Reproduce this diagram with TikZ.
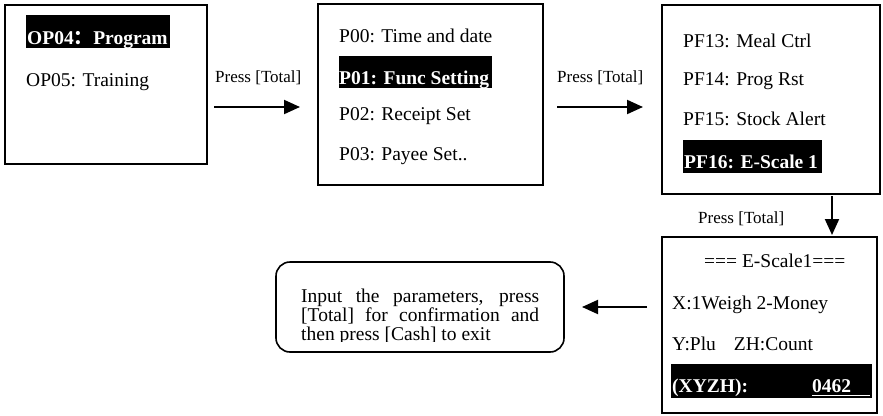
\documentclass[tikz,border=0pt]{standalone}
\usepackage{fontspec}
\setmainfont{Liberation Serif}
\newfontfamily\cjk{Noto Sans CJK SC}
\usetikzlibrary{arrows.meta}
\begin{document}
\begin{tikzpicture}[x=1pt,y=-1pt,
  box/.style={draw, line width=1.6pt, inner sep=0pt, outer sep=0pt, anchor=north west},
  txt/.style={anchor=base west, inner sep=0pt, font=\fontsize{19.5pt}{19pt}\selectfont},
  btxt/.style={anchor=base west, inner sep=0pt, font=\fontsize{19.5pt}{19pt}\selectfont\bfseries, text=white},
  lbl/.style={anchor=base west, inner sep=0pt, font=\fontsize{17pt}{20pt}\selectfont},
  arr/.style={line width=2pt, -{Triangle[length=16pt,width=14pt]}},
  hl/.style={fill=black}]
\useasboundingbox (0,0) rectangle (883,415);

% screens
\node[box, minimum width=202pt, minimum height=159pt] (b1) at (5,5) {};
\node[box, minimum width=225pt, minimum height=181pt] (b2) at (318,4) {};
\node[box, minimum width=218pt, minimum height=189pt] (b3) at (662,5) {};
\node[box, minimum width=215pt, minimum height=176pt] (b4) at (662,237) {};
\node[box, rounded corners=14pt, minimum width=288pt, minimum height=90pt] (rb) at (276,262) {};

% screen 1
\fill[hl] (26,15) rectangle (170,48);
\node[btxt] (op4) at (27,44) {OP04{\cjk ：}Program};
\node[txt] (op5) at (26,86) {OP05: Training};

% screen 2
\node[txt] (p0) at (339,42) {P00: Time and date};
\fill[hl] (339,56) rectangle (492,88);
\node[btxt] (p1) at (339,84) {P01: Func Setting};
\node[txt] (p2) at (339,120) {P02: Receipt Set};
\node[txt] (p3) at (339,160) {P03: Payee Set..};

% screen 3
\node[txt] (f13) at (683,47) {PF13: Meal Ctrl};
\node[txt] (f14) at (683,85) {PF14: Prog Rst};
\node[txt] (f15) at (683,125) {PF15: Stock Alert};
\fill[hl] (683,140) rectangle (822,173);
\node[btxt] (f16) at (684,168) {PF16: E-Scale 1};

% screen 4
\node[txt] (es) at (704,267) {=== E-Scale1===};
\node[txt] (xw) at (672,309) {X:1Weigh 2-Money};
\node[txt] (yp) at (672,350) {Y:Plu\hspace{18pt}ZH:Count};
\fill[hl] (671,364) rectangle (872,398);
\node[btxt] (xyzh) at (672,392) {(XYZH):};
\node[btxt] (val) at (812,392) {0462};
\draw[white, line width=1.5pt] (812,395.5) -- (870,395.5);

% instruction box text
\begin{scope}
\clip (276,262) rectangle (564,341.5);
\node[txt] (rt1) at (301,302) {\makebox[238pt][s]{Input the parameters, press}};
\node[txt] (rt2) at (301,321) {\makebox[238pt][s]{[Total] for confirmation and}};
\node[txt] (rt3) at (301,340) {then press [Cash] to exit};
\end{scope}

% labels
\node[lbl] (l1) at (215,82) {Press [Total]};
\node[lbl] (l2) at (557,82) {Press [Total]};
\node[lbl] (l3) at (698,223) {Press [Total]};

% connectors
\coordinate (ya) at (0,107);
\coordinate (yb) at (0,307);
\coordinate (xc) at (832,0);
\draw[arr, shorten <=7pt, shorten >=18pt] (b1.east |- ya) -- (b2.west |- ya);
\draw[arr, shorten <=14pt, shorten >=19pt] (b2.east |- ya) -- (b3.west |- ya);
\draw[arr, shorten <=2pt, shorten >=2pt] (b3.south -| xc) -- (b4.north -| xc);
\draw[arr, shorten <=15pt, shorten >=18pt] (b4.west |- yb) -- (rb.east |- yb);
\end{tikzpicture}
\end{document}
